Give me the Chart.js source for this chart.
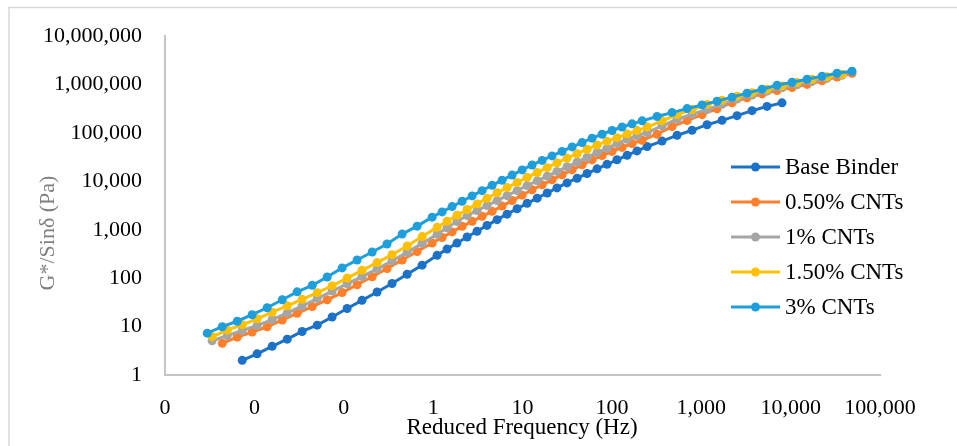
<!DOCTYPE html>
<html>
<head>
<meta charset="utf-8">
<script src="https://cdn.jsdelivr.net/npm/chart.js@4.4.1/dist/chart.umd.min.js"></script>
<style>
html, body { margin: 0; padding: 0; background: #fff; }
#wrap { width: 957px; height: 446px; }
</style>
</head>
<body>
<div id="wrap"><canvas id="masterCurve" width="957" height="446"></canvas></div>
<script>

// ================================
// DATA
// ================================

// reduced frequency grids (Hz)
const freqA = [
0.00297, 0.00437, 0.00643, 0.00944, 0.0139, 0.0205, 0.0301, 0.0444, 0.0652, 0.0959, 0.141, 0.208, 0.305, 0.450, 0.662, 0.975,
1.26, 1.63, 2.11, 2.73, 3.53, 4.57, 5.91, 7.65, 9.90, 12.8, 16.6, 21.4, 27.7, 35.9, 46.4, 60.0, 77.7, 100.5, 130, 168, 218,
320, 471, 694, 1021, 1502, 2211, 3253, 4786, 7045, 10370, 15260, 22450, 33040, 48620
];

const freqB = [
0.00337, 0.00497, 0.00731, 0.01073, 0.0158, 0.0233, 0.0342, 0.0505, 0.0741, 0.1090, 0.160, 0.236, 0.347, 0.512, 0.753, 1.109,
1.43, 1.85, 2.40, 3.10, 4.01, 5.20, 6.72, 8.70, 11.26, 14.6, 18.9, 24.3, 31.5, 40.8, 52.8, 68.2, 88.3, 114, 148, 191, 248,
364, 536, 789, 1161, 1708, 2514, 3699, 5442, 8010, 11790, 17350, 25530, 37570, 55280
];

// G*/sin(delta) (Pa)
const gBase = [
2.01, 2.74, 3.91, 5.51, 7.93, 10.7, 15.8, 23.6, 34.9, 51.8, 77.8, 121, 186, 297,
399, 532, 711, 935, 1233, 1622, 2104, 2716, 3524, 4508, 5768, 7345, 9311, 11640, 14550, 18160, 22490, 27990, 34590, 42660, 52480,
68080, 89330, 113800, 148300, 182400, 228000, 289100, 354000, 419800
];

const g050 = [
4.51, 6.05, 7.74, 9.91, 13.7, 18.8, 25.9, 35.8, 50.5, 73.1, 107, 159, 237, 356, 535,
695, 906, 1180, 1496, 1897, 2404, 3090, 4009, 5200, 6714, 8511, 10790, 13680, 17340, 21980, 27800, 34280, 41590, 50350, 60540, 70790,
94410, 135500, 180700, 239300, 317700, 422700, 534600, 641200, 756800, 871000, 1009000, 1202000, 1439000, 1717000
];

const g1 = [
5.10, 6.53, 8.31, 10.6, 14.0, 19.2, 26.7, 38.0, 54.3, 76.7, 108, 156, 229, 343, 525, 811,
1099, 1489, 1968, 2495, 3162, 4009, 5082, 6442, 8200, 10280, 12850, 16070, 20060, 25180, 31620, 39540, 48640, 60260, 74130, 87900, 102300,
140600, 192300, 243800, 307600, 391700, 501200, 608100, 731100, 859000, 990800, 1153000, 1343000, 1560000
];

const g150 = [
6.20, 8.43, 10.9, 14.5, 19.8, 26.9, 36.6, 50.3, 69.5, 100.5, 145.5, 210, 306, 462, 724, 1130,
1503, 1995, 2630, 3428, 4467, 5823, 7450, 9487, 12140, 15310, 19230, 24270, 30280, 37330, 46020, 56620, 67140, 80000, 94850, 112000, 132700,
178200, 239300, 306200, 389900, 473100, 574100, 680800, 803500, 939800, 1104000, 1285000, 1455000, 1637000
];

const g3 = [
7.31, 9.95, 12.9, 17.6, 24.5, 35.8, 52.2, 71.1, 106, 163, 238, 348, 508, 816, 1191, 1825,
2345, 3015, 3897, 5012, 6442, 8279, 10590, 13490, 17250, 21870, 27180, 33650, 41590, 51520, 63440, 78160, 94440, 112500, 132900, 154600, 178200,
218800, 264200, 319300, 380200, 455000, 550500, 665300, 804100, 972000, 1120000, 1291000, 1489000, 1717000, 1888000
];

const seriesNames = ['Base Binder', '0.50% CNTs', '1% CNTs', '1.50% CNTs', '3% CNTs'];
const seriesColors = ['#1c72c6', '#ff7f2a', '#a5a5a5', '#ffc000', '#1e9fdb'];

const xTicks = [0.001, 0.01, 0.1, 1, 10, 100, 1000, 10000, 100000];
const yTicks = [1, 10, 100, 1000, 10000, 100000, 1000000, 10000000];


const FONT = "'Liberation Serif', 'DejaVu Serif', serif";

function pairs(freqs, vals){
  return vals.map(function(v, i){ return { x: freqs[i], y: v }; });
}

function excelNum(v){
  return Math.round(v).toLocaleString('en-US');
}


// ================================
// border, axis titles, legend
// ================================

const decor = {
  id: 'decor',
  beforeDraw: function(chart){
    const ctx = chart.ctx;
    ctx.save();
    ctx.fillStyle = '#fff';
    ctx.fillRect(0, 0, chart.width, chart.height);
    ctx.strokeStyle = '#d9d9d9';
    ctx.lineWidth = 1.5;
    ctx.strokeRect(9, 7.5, chart.width, chart.height);
    ctx.restore();
  },
  afterDraw: function(chart){
    const ctx = chart.ctx;
    ctx.save();

    // y title
    ctx.font = '22px ' + FONT;
    ctx.fillStyle = '#7f7f7f';
    ctx.textAlign = 'center';
    ctx.textBaseline = 'middle';
    ctx.translate(48, 233);
    ctx.rotate(-Math.PI / 2);
    ctx.fillText('G*/Sin\u03B4 (Pa)', 0, 0);
    ctx.setTransform(1, 0, 0, 1, 0, 0);

    // x title
    ctx.font = '23px ' + FONT;
    ctx.fillStyle = '#000';
    ctx.fillText('Reduced Frequency (Hz)', 522, 428);

    // legend
    const rowY = [167, 202, 237, 272, 307];
    chart.data.datasets.forEach(function(ds, i){
      const y = rowY[i];
      ctx.strokeStyle = ds.borderColor;
      ctx.lineWidth = 3;
      ctx.beginPath();
      ctx.moveTo(731, y);
      ctx.lineTo(780, y);
      ctx.stroke();
      ctx.fillStyle = ds.borderColor;
      ctx.beginPath();
      ctx.arc(755.5, y, 4.5, 0, Math.PI * 2);
      ctx.fill();
      ctx.fillStyle = '#000';
      ctx.textAlign = 'left';
      ctx.fillText(ds.label, 785, y + 1);
    });

    ctx.restore();
  }
};


// ================================
// MASTER CURVE CHART
// ================================

const masterCurve = document.getElementById('masterCurve');

const seriesData = [
  pairs(freqB.slice(2, 46), gBase),
  pairs(freqA.slice(1), g050),
  pairs(freqB.slice(0, 50), g1),
  pairs(freqB.slice(0, 50), g150),
  pairs(freqA, g3)
];

new Chart(masterCurve, {

  type: 'line',

  data: {
    datasets: seriesNames.map(function(name, i){
      return {
        label: name,
        data: seriesData[i],
        borderColor: seriesColors[i],
        backgroundColor: seriesColors[i],
        borderWidth: 3,
        pointRadius: 4.5,
        pointBorderWidth: 0,
        pointHoverRadius: 4.5,
        tension: 0,
        fill: false,
        clip: false,
        order: 5 - i
      };
    })
  },

  options: {
    responsive: false,
    animation: false,
    events: [],
    layout: {
      padding: { left: 0, top: 34, right: 77, bottom: 21 }
    },
    plugins: {
      legend: { display: false },
      tooltip: { enabled: false }
    },
    scales: {
      x: {
        type: 'logarithmic',
        min: 0.001,
        max: 100000,
        grid: { display: false, drawTicks: false },
        border: { color: '#c4c4c4', width: 2 },
        ticks: {
          color: '#000',
          font: { family: FONT, size: 22 },
          padding: 20,
          autoSkip: false,
          maxRotation: 0,
          callback: function(v){ return excelNum(v); }
        },
        afterBuildTicks: function(s){ s.ticks = xTicks.map(function(v){ return { value: v }; }); },
        afterFit: function(s){ s.height = 50; }
      },
      y: {
        type: 'logarithmic',
        min: 1,
        max: 10000000,
        grid: { display: false, drawTicks: false },
        border: { color: '#c4c4c4', width: 2 },
        ticks: {
          color: '#000',
          font: { family: FONT, size: 22 },
          padding: 23,
          autoSkip: false,
          callback: function(v){ return excelNum(v); }
        },
        afterBuildTicks: function(s){ s.ticks = yTicks.map(function(v){ return { value: v }; }); },
        afterFit: function(s){ s.width = 165; }
      }
    }
  },

  plugins: [decor]

});

</script>
</body>
</html>
